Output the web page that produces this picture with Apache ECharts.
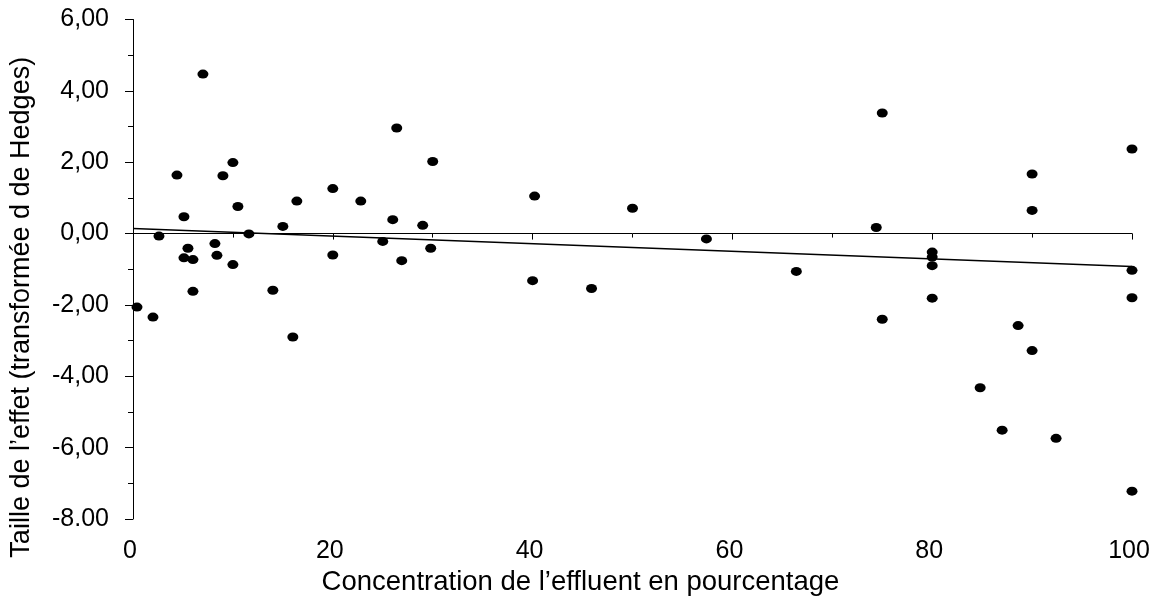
<!DOCTYPE html>
<html>
<head>
<meta charset="utf-8">
<script src="https://cdn.jsdelivr.net/npm/echarts@6/dist/echarts.min.js"></script>
<style>
  html, body { margin: 0; padding: 0; background: #fff; }
  #chart { width: 1164px; height: 606px; }
</style>
</head>
<body>
<div id="chart"></div>
<script>
// concentration de l'effluent (%) et taille de l'effet
const concentration = [
  0.4, 2.0, 2.6, 4.4, 5.1, 5.5, 5.1, 6.0, 6.0, 7.0,
  8.2, 8.4, 9.0, 10.0, 10.0, 10.5, 11.6, 14.0, 15.0, 16.4,
  16.0, 20.0, 20.0, 22.8, 25.0, 26.0, 26.4, 29.0, 30.0, 29.8,
  26.9, 40.2, 40.0, 45.9, 50.0, 57.4, 66.4, 75.0, 74.4, 75.0,
  80.0, 80.0, 80.0, 80.0, 90.0, 90.0, 100.0, 100.0, 100.0, 100.0,
  88.6, 90.0, 84.8, 87.0, 92.4
]
const effectSize = [
  -2.06, -2.34, -0.07, 1.64, 0.47, -0.41, -0.68, -0.73, -1.62, 4.47,
  -0.28, -0.61, 1.62, 1.99, -0.87, 0.76, -0.01, -1.59, 0.20, 0.91,
  -2.90, 1.26, -0.60, 0.91, -0.22, 0.39, 2.96, 0.23, 2.02, -0.41,
  -0.76, 1.05, -1.32, -1.54, 0.71, -0.15, -1.06, 3.38, 0.17, -2.40,
  -0.52, -0.66, -0.90, -1.81, 1.67, 0.65, 2.37, -1.03, -1.80, -7.22,
  -2.58, -3.28, -4.32, -5.51, -5.74
]
// droite de tendance (extrémités)
const trendX = [0, 100]
const trendY = [0.14, -0.92]

const yTickValues = [-8, -6, -4, -2, 0, 2, 4, 6]
const yTickLabels = ['-8.00', '-6,00', '-4,00', '-2,00', '0,00', '2,00', '4,00', '6,00']

const chart = echarts.init(document.getElementById('chart'))
const font = 'Liberation Sans, Arial, sans-serif'

chart.setOption({
  backgroundColor: '#fff',
  animation: false,
  grid: { left: 133, right: 32, top: 19.5, bottom: 87 },
  xAxis: {
    type: 'value',
    min: 0,
    max: 100,
    interval: 20,
    name: 'Concentration de l\u2019effluent en pourcentage',
    nameLocation: 'middle',
    nameGap: 48,
    nameTextStyle: { color: '#000', fontSize: 27.5, fontFamily: font, padding: [0, 104, 0, 0] },
    axisLine: { lineStyle: { color: '#000', width: 1 } },
    axisTick: { length: 6, lineStyle: { color: '#000' } },
    minorTick: { show: true, splitNumber: 2, length: 4, lineStyle: { color: '#000' } },
    splitLine: { show: false },
    axisLabel: { color: '#000', fontSize: 25, fontFamily: font, margin: 20, padding: [0, 6, 0, 0] }
  },
  yAxis: {
    type: 'value',
    min: -8,
    max: 6,
    interval: 2,
    name: 'Taille de l\u2019effet (transform\u00e9e d de Hedges)',
    nameLocation: 'middle',
    nameGap: 98,
    nameTextStyle: { color: '#000', fontSize: 27, fontFamily: font, padding: [0, 76, 0, 0] },
    axisLine: { show: true, lineStyle: { color: '#000', width: 1 } },
    axisTick: { show: true, length: 8, lineStyle: { color: '#000' } },
    minorTick: { show: true, splitNumber: 2, length: 5, lineStyle: { color: '#000' } },
    splitLine: { show: false },
    axisLabel: {
      color: '#000',
      fontSize: 25,
      fontFamily: font,
      margin: 24,
      formatter: v => yTickLabels[yTickValues.indexOf(v)]
    }
  },
  series: [
    {
      type: 'scatter',
      data: concentration.map((x, i) => [x, effectSize[i]]),
      symbol: 'circle',
      symbolSize: [11, 9],
      itemStyle: { color: '#000', opacity: 1 },
      z: 3
    },
    {
      type: 'line',
      data: trendX.map((x, i) => [x, trendY[i]]),
      symbol: 'none',
      lineStyle: { color: '#000', width: 1.5 },
      z: 2
    }
  ]
})
</script>
</body>
</html>
